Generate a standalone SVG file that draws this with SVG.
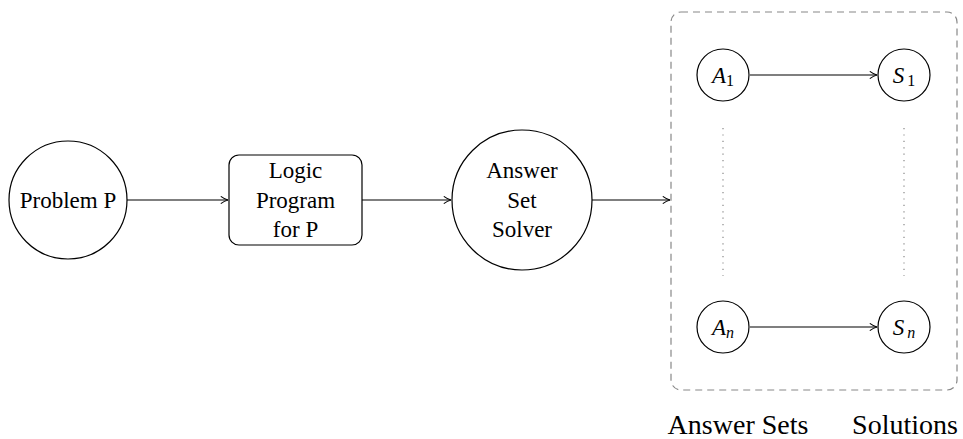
<svg xmlns="http://www.w3.org/2000/svg" width="963" height="439" viewBox="0 0 963 439">
<defs>
<style>
text{font-family:"Liberation Serif","Tinos","Noto Serif","DejaVu Serif","FreeSerif","Times",serif;fill:#000;text-anchor:middle}
.t{font-size:23px}
.lab{font-size:28px}
.it{font-style:italic}
.sub{font-size:16px}
.node{fill:#fff;stroke:#000;stroke-width:1.2}
.edge{fill:none;stroke:#000;stroke-width:1.2}
.dots{fill:none;stroke:#888;stroke-width:1.2;stroke-dasharray:1.2 5.2}
.box{fill:none;stroke:#888;stroke-width:1.2;stroke-dasharray:7 5}
</style>
<marker id="arr" viewBox="0 0 10 10" refX="9" refY="5" markerWidth="9" markerHeight="9" markerUnits="userSpaceOnUse" orient="auto">
<path d="M1,1 Q5,4 9,5 Q5,6 1,9" fill="none" stroke="#000" stroke-width="1.2"/>
</marker>
</defs>
<rect x="0" y="0" width="963" height="439" fill="#fff"/>
<g id="group">
<rect class="box" x="671" y="12" width="286" height="378" rx="10"/>
</g>
<g id="connectors">
<line class="edge" x1="127" y1="200" x2="228" y2="200" marker-end="url(#arr)"/>
<line class="edge" x1="362" y1="200" x2="451" y2="200" marker-end="url(#arr)"/>
<line class="edge" x1="592" y1="200" x2="670" y2="200" marker-end="url(#arr)"/>
<line class="edge" x1="750" y1="75" x2="877" y2="75" marker-end="url(#arr)"/>
<line class="edge" x1="750" y1="327" x2="877" y2="327" marker-end="url(#arr)"/>
<line class="dots" x1="723" y1="128" x2="723" y2="276"/>
<line class="dots" x1="904" y1="128" x2="904" y2="276"/>
</g>
<g id="problem">
<circle class="node" cx="68" cy="200" r="59"/>
<text class="t" x="68" y="208">Problem P</text>
</g>
<g id="logic">
<rect class="node" x="229" y="155" width="133" height="90" rx="10"/>
<text class="t" x="295.5" y="178">Logic</text>
<text class="t" x="295.5" y="208">Program</text>
<text class="t" x="295.5" y="237">for P</text>
</g>
<g id="solver">
<circle class="node" cx="522" cy="200" r="70"/>
<text class="t" x="522" y="178">Answer</text>
<text class="t" x="522" y="208">Set</text>
<text class="t" x="522" y="237">Solver</text>
</g>
<g id="A1">
<circle class="node" cx="723" cy="75" r="26"/>
<text class="t" x="723" y="83"><tspan class="it">A</tspan><tspan class="sub" dy="3">1</tspan></text>
</g>
<g id="S1">
<circle class="node" cx="904" cy="75" r="26"/>
<text class="t" x="904" y="83"><tspan class="it">S</tspan><tspan class="sub" dx="3" dy="3">1</tspan></text>
</g>
<g id="An">
<circle class="node" cx="723" cy="327" r="26"/>
<text class="t" x="723" y="335"><tspan class="it">A</tspan><tspan class="sub it" dy="3">n</tspan></text>
</g>
<g id="Sn">
<circle class="node" cx="904" cy="327" r="26"/>
<text class="t" x="904" y="335"><tspan class="it">S</tspan><tspan class="sub it" dx="3" dy="3">n</tspan></text>
</g>
<g id="labels">
<text class="lab" x="738" y="434">Answer Sets</text>
<text class="lab" x="905" y="434">Solutions</text>
</g>
</svg>
